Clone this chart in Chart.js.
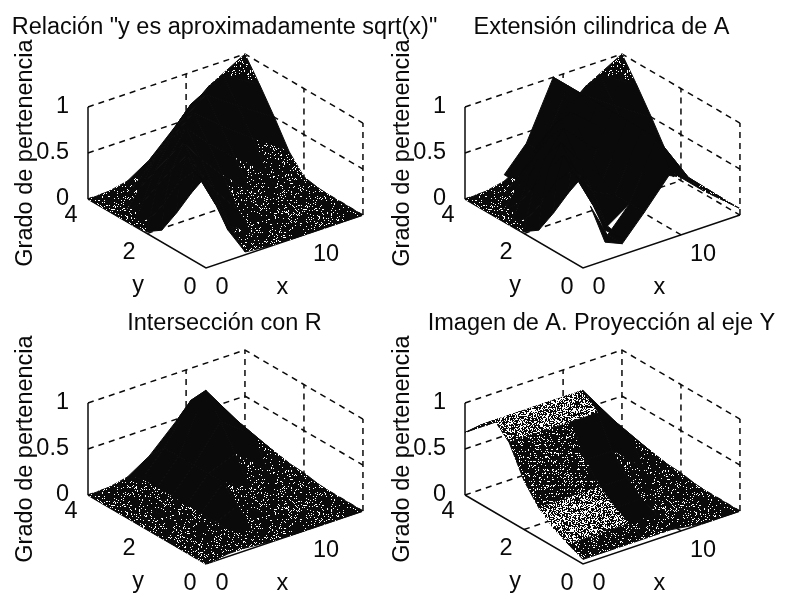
<!DOCTYPE html>
<html>
<head>
<meta charset="utf-8">
<title>Grado de pertenencia</title>
<script src="https://cdn.jsdelivr.net/npm/chart.js@4"></script>
<style>
body { margin: 0; background: #fff; }
#page { position: relative; width: 785px; height: 593px; overflow: hidden; }
canvas { position: absolute; }
</style>
</head>
<body>
<div id="page"></div>
<script>
// values
const xGrid = [0, 0.25, 1, 2.25, 4, 6.25, 9, 12.25, 16];
const yGrid = [0, 0.5, 1, 1.5, 2, 2.5, 3, 3.5, 4];
const xTicks = [0, 10];
const yTicks = [0, 2, 4];
const zTicks = [0, 0.5, 1];
const titles = ['Relación "y es aproximadamente sqrt(x)"', 'Extensión cilindrica de A', 'Intersección con R', 'Imagen de A. Proyección al eje Y'];

// one row per xGrid value, one column per yGrid value
const zRelation = [
  [1, 0.72, 0.41, 0.13, 0.02, 0, 0, 0, 0],
  [0.88, 0.95, 0.74, 0.42, 0.14, 0.02, 0, 0, 0],
  [0.65, 0.82, 1, 0.76, 0.48, 0.2, 0.04, 0.01, 0],
  [0.33, 0.6, 0.8, 1, 0.76, 0.5, 0.22, 0.04, 0.01],
  [0.03, 0.22, 0.5, 0.76, 1, 0.8, 0.5, 0.2, 0.05],
  [0.01, 0.04, 0.22, 0.5, 0.76, 1, 0.78, 0.48, 0.2],
  [0, 0.01, 0.04, 0.22, 0.5, 0.76, 1, 0.8, 0.48],
  [0, 0, 0.01, 0.04, 0.22, 0.5, 0.76, 1, 0.78],
  [0, 0, 0, 0.01, 0.04, 0.22, 0.5, 0.76, 1]
];
const zExtensionR = [
  [1, 0.72, 0.41, 0.13, 0.02, 0, 0, 0, 0],
  [0.88, 0.95, 0.74, 0.42, 0.14, 0.02, 0, 0, 0],
  [0.65, 0.82, 1, 0.76, 0.48, 0.2, 0.04, 0.01, 0],
  [0.33, 0.6, 0.8, 1, 0.76, 0.5, 0.22, 0.04, 0.01],
  [0.18, 0.22, 0.5, 0.76, 1, 0.8, 0.5, 0.2, 0.05],
  [null, 0.38, 0.38, 0.5, 0.76, 1, 0.78, 0.48, 0.2],
  [null, null, null, null, 0.5, 0.76, 1, 0.8, 0.48],
  [null, null, null, null, 0.22, 0.5, 0.76, 1, 0.78],
  [null, null, null, null, 0.04, 0.22, 0.5, 0.76, 1]
];
const zExtensionA = [
  [null, null, null, null, null, null, null, null, null],
  [null, null, null, null, null, null, null, null, null],
  [null, null, null, null, null, null, null, null, null],
  [0.2, 0.5, null, null, null, null, null, null, null],
  [0.12, 0.12, null, null, null, 0.12, 0.12, 0.12, 0.12],
  [0.38, 0.38, 0.38, 0.38, 0.38, 0.38, 0.38, 0.38, 0.38],
  [0.72, 1, 1, 1, 1, 1, 1, 1, 1],
  [0.4, 0.45, 0.45, 0.45, 0.45, 0.45, 0.45, 0.45, 0.45],
  [0.07, 0.07, 0.07, 0.07, 0.07, 0.07, 0.07, 0.07, 0.07]
];
const zIntersection = [
  [0, 0, 0, 0, 0, 0, 0, 0, 0],
  [0, 0, 0, 0, 0, 0, 0, 0, 0],
  [0.01, 0.01, 0.01, 0.01, 0.01, 0.01, 0.01, 0.01, 0],
  [0.03, 0.03, 0.03, 0.03, 0.03, 0.03, 0.03, 0.03, 0.01],
  [0.03, 0.12, 0.12, 0.12, 0.12, 0.12, 0.12, 0.12, 0.05],
  [0.01, 0.04, 0.22, 0.38, 0.38, 0.38, 0.38, 0.38, 0.2],
  [0, 0.01, 0.04, 0.22, 0.5, 0.76, 1, 0.8, 0.48],
  [0, 0, 0.01, 0.04, 0.22, 0.5, 0.55, 0.55, 0.55],
  [0, 0, 0, 0.01, 0.04, 0.05, 0.08, 0.1, 0.12]
];
const zProjection = [
  [0.05, 0.12, 0.2, 0.33, 0.53, 0.85, 1, 0.85, 0.68],
  [0.05, 0.12, 0.2, 0.33, 0.53, 0.85, 1, 0.85, 0.68],
  [0.05, 0.12, 0.2, 0.33, 0.53, 0.85, 1, 0.85, 0.68],
  [0.05, 0.12, 0.2, 0.33, 0.53, 0.85, 1, 0.85, 0.68],
  [0.05, 0.12, 0.2, 0.33, 0.53, 0.85, 1, 0.85, 0.68],
  [0.05, 0.12, 0.2, 0.33, 0.53, 0.85, 1, 0.85, 0.68],
  [0.05, 0.12, 0.2, 0.33, 0.53, 0.85, 1, 0.85, 0.68],
  [0, 0, 0.01, 0.04, 0.22, 0.5, 0.55, 0.55, 0.55],
  [0, 0, 0, 0.01, 0.04, 0.05, 0.08, 0.1, 0.12]
];

const FONT = 'Liberation Sans';
const INK = '#0a0a0a';
const xMax = 16, yMax = 4;

// the view of the matlab axes, x goes on a pixel-like scale and y on z units
function project(x, y, z) {
  return { x: 118 + x * 9.81 - y * 29.5, y: z + (x * 3.31 + y * 17.25 - 69) / 92 };
}

// scanner grain for the surfaces, same pattern each run
let seed = 12345;
function grain() {
  seed = (seed * 1103515245 + 12345) % 2147483648;
  return seed / 2147483648;
}
function makeTexture(density, rowEvery) {
  const c = document.createElement('canvas');
  c.width = c.height = 96;
  const g = c.getContext('2d');
  g.fillStyle = INK;
  g.fillRect(0, 0, 96, 96);
  g.fillStyle = '#fff';
  for (let py = 0; py < 96; py++) {
    for (let px = 0; px < 96; px++) {
      const d = rowEvery && py % rowEvery === 0 ? density * 3 : density;
      if (grain() < d) g.fillRect(px, py, 1, 1);
    }
  }
  return g.createPattern(c, 'repeat');
}
const darkGrain = makeTexture(0.09);
const lightGrain = makeTexture(0.42);
const stripeGrain = makeTexture(0.08, 4);

function plainShade(i, j, zs) {
  const spread = Math.max(...zs) - Math.min(...zs);
  const mean = zs.reduce((a, b) => a + b) / 4;
  if (spread < 0.12 || mean < 0.12) return darkGrain;
  if (i >= 5 && mean < 0.3) return darkGrain;
  if (mean > 0.85 && i === 7) return darkGrain;
  return INK;
}
function projectionShade(i, j, zs) {
  if (i >= 6) return plainShade(i, j, zs);
  if (j === 0 || j >= 6) return darkGrain;
  if (j === 5) return lightGrain;
  if (i === 5) return INK;
  return j < 3 ? lightGrain : stripeGrain;
}

const panels = [
  { left: 0, top: 9, grids: [zRelation], shade: plainShade },
  { left: 377, top: 9, grids: [zExtensionR, zExtensionA], shade: plainShade },
  { left: 0, top: 305, grids: [zIntersection], shade: plainShade },
  { left: 377, top: 305, grids: [zProjection], shade: projectionShade }
];

function surfaceDatasets(panel) {
  const quads = [];
  panel.grids.forEach(grid => {
    for (let i = 0; i < xGrid.length - 1; i++) {
      for (let j = 0; j < yGrid.length - 1; j++) {
        const zs = [grid[i][j], grid[i + 1][j], grid[i + 1][j + 1], grid[i][j + 1]];
        if (zs.includes(null)) continue;
        const corners = [[i, j], [i + 1, j], [i + 1, j + 1], [i, j + 1], [i, j]];
        const color = panel.shade(i, j, zs);
        quads.push({
          depth: (xGrid[i] + xGrid[i + 1]) * 3.31 + (yGrid[j] + yGrid[j + 1]) * 17.25,
          dataset: {
            data: corners.map(c => project(xGrid[c[0]], yGrid[c[1]], grid[c[0]][c[1]])),
            showLine: true,
            fill: 'shape',
            backgroundColor: color,
            borderColor: color,
            borderWidth: 1,
            pointRadius: 0
          }
        });
      }
    }
  });
  // chart.js paints the first dataset last, so nearest goes first
  quads.sort((a, b) => a.depth - b.depth);
  return quads.map(q => q.dataset);
}

function lineDataset(points, dashed) {
  return {
    data: points.map(p => project(p[0], p[1], p[2])),
    showLine: true,
    fill: false,
    borderColor: INK,
    borderWidth: 1.5,
    borderDash: dashed ? [6, 5] : [],
    pointRadius: 0,
    clip: false
  };
}

function boxDatasets() {
  const lines = [];
  lines.push(lineDataset([[0, yMax, 0], [0, 0, 0], [xMax, 0, 0]], false));
  lines.push(lineDataset([[0, yMax, 0], [0, yMax, 1]], false));
  zTicks.forEach(z => lines.push(lineDataset([[0, yMax, z], [xMax, yMax, z], [xMax, 0, z]], true)));
  lines.push(lineDataset([[xTicks[1], yMax, 0], [xTicks[1], yMax, 1]], true));
  lines.push(lineDataset([[xMax, yMax, 0], [xMax, yMax, 1]], true));
  lines.push(lineDataset([[xMax, yTicks[1], 0], [xMax, yTicks[1], 1]], true));
  lines.push(lineDataset([[xMax, 0, 0], [xMax, 0, 1]], true));
  lines.push(lineDataset([[xTicks[1], 0, 0], [xTicks[1], yMax, 0]], true));
  lines.push(lineDataset([[0, yTicks[1], 0], [xMax, yTicks[1], 0]], true));
  return lines;
}

// floor labels, the 3d axes have no scale of their own
const floorLabels = {
  id: 'floorLabels',
  afterDraw(chart) {
    const ctx = chart.ctx;
    const put = (text, x, y, dx, dy) => {
      const p = project(x, y, 0);
      ctx.fillText(text, chart.scales.x.getPixelForValue(p.x) + dx, chart.scales.y.getPixelForValue(p.y) + dy);
    };
    ctx.save();
    ctx.font = '23.5px "' + FONT + '"';
    ctx.fillStyle = INK;
    ctx.textAlign = 'center';
    ctx.textBaseline = 'middle';
    put(String(yTicks[2]), 0, yTicks[2], -17, 17);
    put(String(yTicks[1]), 0, yTicks[1], -18, 19);
    put(String(yTicks[0]), 0, yTicks[0], -16, 19);
    put(String(xTicks[0]), xTicks[0], 0, 16, 19);
    put(String(xTicks[1]), xTicks[1], 0, 22, 20);
    put('y', 0, yTicks[1], -9, 52);
    put('x', 8, 0, -2, 46);
    ctx.restore();
  }
};

const page = document.getElementById('page');
panels.forEach((panel, n) => {
  const canvas = document.createElement('canvas');
  canvas.width = 449;
  canvas.height = 288;
  canvas.style.left = panel.left + 'px';
  canvas.style.top = panel.top + 'px';
  page.appendChild(canvas);
  new Chart(canvas.getContext('2d'), {
    type: 'scatter',
    data: { datasets: surfaceDatasets(panel).concat(boxDatasets()) },
    plugins: [floorLabels],
    options: {
      responsive: false,
      animation: false,
      events: [],
      plugins: {
        legend: { display: false },
        tooltip: { enabled: false },
        title: {
          display: true,
          text: titles[n],
          color: INK,
          font: { family: FONT, size: 23.5, weight: 'normal', lineHeight: 1.2 },
          // zero height box, so the plot keeps the full canvas
          padding: { top: 4.9, bottom: -33.1 }
        }
      },
      scales: {
        x: { type: 'linear', min: 0, max: 361, display: false },
        y: {
          type: 'linear',
          min: -1.065,
          max: 2.065,
          grid: { display: false },
          border: { display: false },
          afterBuildTicks: axis => { axis.ticks = zTicks.map(value => ({ value })); },
          afterFit: axis => {
            axis.width = 88;
            axis.paddingTop = 0;
            axis.paddingBottom = 0;
          },
          ticks: {
            color: INK,
            padding: 11,
            font: { family: FONT, size: 23.5 },
            callback: value => String(value)
          },
          title: {
            display: true,
            text: 'Grado de pertenencia',
            color: INK,
            font: { family: FONT, size: 23.5 },
            padding: { top: 11, bottom: 0 }
          }
        }
      }
    }
  });
});
</script>
</body>
</html>
